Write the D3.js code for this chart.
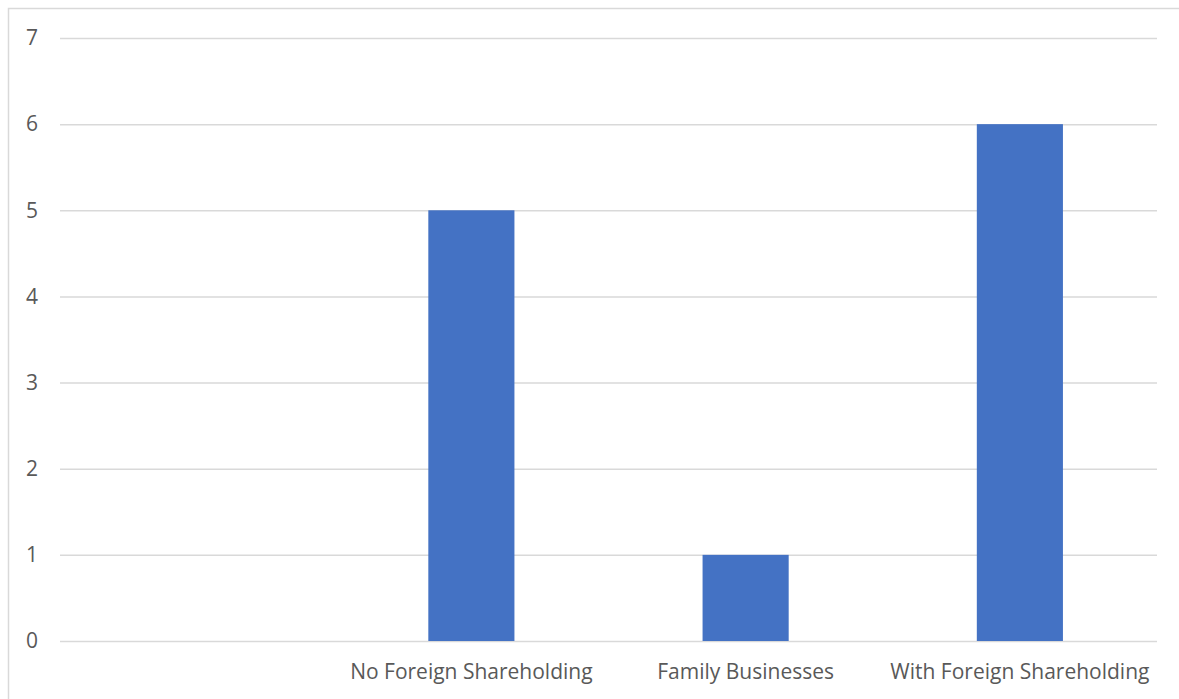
<!DOCTYPE html>
<html><head><meta charset="utf-8">
<script src="https://cdn.jsdelivr.net/npm/d3@7"></script>
<style>body{margin:0;background:#fff}svg{display:block}</style>
</head><body>
<script>
const categories = ["", "No Foreign Shareholding", "Family Businesses", "With Foreign Shareholding"];
const values = [null, 5, 1, 6];
const yTicks = [0, 1, 2, 3, 4, 5, 6, 7];

(function () {
const W = 1179, H = 699;
const svg = d3.select("body").append("svg").attr("width", W).attr("height", H);
svg.append("rect").attr("x", 8.5).attr("y", 8.5).attr("width", W + 10).attr("height", H + 10)
  .attr("fill", "#fff").attr("stroke", "#d9d9d9").attr("stroke-width", 1.5);

const mLeft = 60, mRight = 1157, mTop = 38, mBottom = 641;
const x = d3.scaleBand().domain(categories.map((c, i) => i)).range([mLeft, mRight]).paddingInner(0.686).paddingOuter(0.343);
const y = d3.scaleLinear().domain([0, 7]).range([mBottom, mTop]);

const font = "'Open Sans', 'Noto Sans', sans-serif";

const yAxis = d3.axisLeft(y).tickValues(yTicks).tickSize(-(mRight - mLeft)).tickPadding(22).tickFormat(d3.format("d"));
const gy = svg.append("g").attr("transform", `translate(${mLeft},0)`).call(yAxis);
gy.select(".domain").remove();
gy.selectAll(".tick line").attr("stroke", "#d9d9d9").attr("stroke-width", 1.5);
gy.selectAll(".tick text").attr("fill", "#595959").attr("font-size", 21).attr("font-family", font);

const data = categories.map((c, i) => ({i, c, v: values[i]}));
svg.append("g").selectAll("rect").data(data.filter(d => d.v != null)).join("rect")
  .attr("x", d => x(d.i)).attr("width", x.bandwidth())
  .attr("y", d => y(d.v)).attr("height", d => y(0) - y(d.v))
  .attr("fill", "#4472c4");

const xAxis = d3.axisBottom(x).tickFormat(i => categories[i]).tickSize(0).tickPadding(23);
const gx = svg.append("g").attr("transform", `translate(0,${mBottom})`).call(xAxis);
gx.select(".domain").remove();
gx.selectAll(".tick text").attr("fill", "#595959").attr("font-size", 21).attr("font-family", font);
})();
</script>
</body></html>
